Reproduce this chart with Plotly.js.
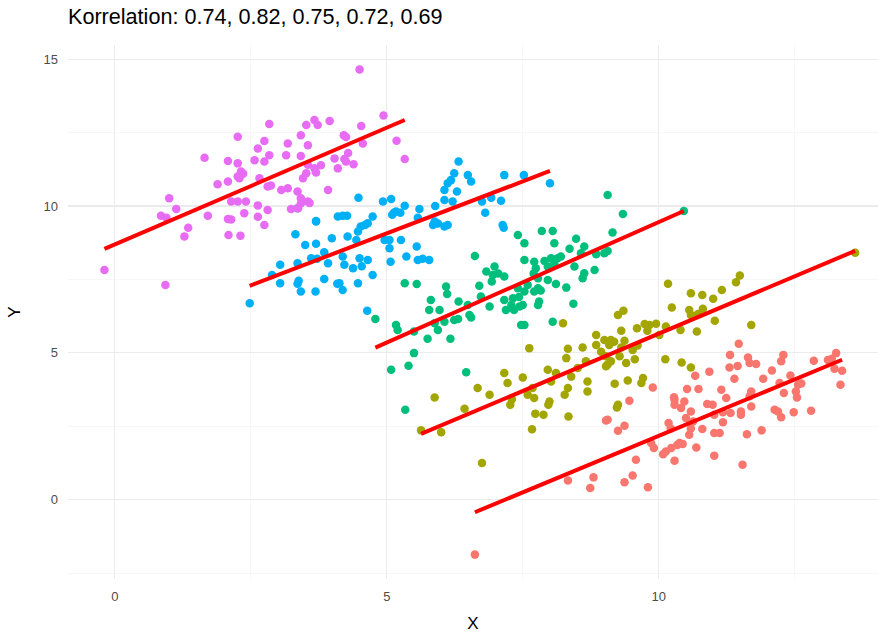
<!DOCTYPE html>
<html>
<head>
<meta charset="utf-8">
<script src="https://cdn.plot.ly/plotly-3.0.1.min.js"></script>
<style>html,body{margin:0;padding:0;background:#fff;}#chart{width:878px;height:633px;}</style>
</head>
<body>
<div id="chart"></div>
<script>
const titleText = "Korrelation: 0.74, 0.82, 0.75, 0.72, 0.69";
const groupNames = ["1", "2", "3", "4", "5"];
const groupColors = ["#F8766D", "#A3A500", "#00BF7D", "#00B0F6", "#E76BF3"];

const redPts = [[6.62,-1.87],[8.33,0.65],[8.74,0.4],[8.8,0.76],[9.03,2.7],[9.37,0.59],[9.52,0.82],[9.8,0.42],[9.58,1.36],[9.25,2.35],[9.37,2.52],[9.06,2.72],[9.86,1.93],[9.91,1.76],[10.13,1.64],[10.08,1.55],[10.29,1.33],[10.23,1.76],[10.38,1.93],[10.44,1.9],[10.34,1.86],[10.69,1.78],[10.18,2.61],[10.22,2.42],[10.29,3.23],[10.41,3.12],[10.5,2.78],[10.59,3.0],[10.63,2.66],[10.59,2.42],[10.56,2.21],[10.8,2.41],[10.99,3.23],[11.02,2.89],[11.18,2.98],[11.18,2.64],[11.32,2.95],[11.02,2.27],[11.12,2.27],[11.02,1.5],[11.54,1.19],[11.51,3.0],[11.51,2.89],[11.62,2.23],[11.7,3.17],[11.89,2.36],[12.13,3.06],[12.19,3.0],[12.25,2.81],[12.48,2.98],[12.8,3.03],[11.47,5.31],[11.31,4.93],[11.64,4.84],[11.67,4.65],[11.79,4.62],[11.3,4.5],[11.45,4.55],[11.39,4.12],[10.93,4.36],[10.67,4.22],[10.52,3.77],[10.73,3.77],[9.89,3.82],[10.28,3.49],[10.29,3.4],[10.47,3.34],[9.46,3.37],[11.15,3.74],[11.24,3.46],[10.89,3.26],[11.7,3.68],[11.67,3.52],[11.92,4.12],[12.08,4.4],[12.25,4.71],[12.29,4.93],[12.22,3.97],[12.42,4.23],[12.56,3.91],[12.62,3.96],[12.52,3.68],[12.3,3.63],[12.54,3.48],[12.85,4.73],[13.11,4.76],[13.26,4.99],[13.23,4.46],[13.37,4.39],[13.34,3.91],[13.18,4.8]];

const olivePts = [[8.24,6.01],[8.85,5.61],[9.0,5.44],[8.85,5.27],[8.94,5.04],[9.03,4.88],[8.6,5.18],[8.33,5.14],[8.3,4.82],[8.66,4.71],[9.03,4.54],[7.62,5.16],[7.96,4.42],[8.11,4.31],[8.39,4.19],[8.51,4.48],[8.69,4.02],[8.02,4.02],[8.33,3.8],[8.27,3.57],[8.69,3.68],[7.16,4.31],[7.22,3.97],[7.5,4.16],[7.68,3.8],[6.67,3.8],[6.89,3.57],[7.59,3.57],[7.71,3.46],[7.3,3.42],[7.99,3.34],[5.88,3.48],[6.43,3.1],[5.63,2.36],[6.0,2.3],[6.75,1.25],[7.73,2.93],[7.88,2.89],[7.67,2.4],[8.34,2.83],[7.97,3.23],[7.27,3.23],[13.61,8.41],[11.49,7.63],[11.42,7.4],[11.16,7.14],[11.0,6.84],[10.8,6.97],[10.59,7.03],[10.17,7.35],[10.24,6.54],[10.56,6.46],[10.59,6.29],[10.81,6.5],[10.72,6.32],[11.03,6.09],[10.7,5.73],[10.4,5.78],[11.7,5.95],[10.13,5.9],[10.01,5.61],[9.95,5.99],[9.83,5.95],[9.74,5.98],[9.79,5.75],[9.6,5.84],[9.25,6.29],[9.35,6.43],[9.31,5.75],[9.12,5.44],[9.18,5.38],[9.09,5.27],[9.37,5.41],[9.31,5.18],[9.52,5.1],[9.61,5.25],[9.28,4.88],[9.12,4.71],[9.06,4.6],[9.4,4.65],[9.56,4.78],[10.12,4.78],[10.42,4.67],[10.59,4.5],[9.43,4.06],[9.19,3.95],[9.71,4.14],[9.68,3.97],[9.25,3.23],[9.23,3.14]];

const greenPts = [[7.41,9.01],[7.53,8.73],[7.85,9.15],[8.05,9.15],[8.08,8.73],[8.48,8.88],[8.36,8.54],[8.63,8.62],[8.57,8.39],[8.85,8.36],[9.0,8.39],[6.62,8.3],[7.53,8.16],[7.71,8.1],[7.9,8.13],[8.02,8.22],[8.14,8.22],[8.08,8.02],[8.2,8.28],[7.96,7.94],[7.74,7.88],[7.7,7.7],[7.78,7.54],[8.45,7.94],[8.63,7.71],[8.82,7.82],[8.6,7.54],[7.96,7.48],[8.11,7.34],[8.3,7.22],[7.78,7.2],[7.71,7.09],[7.83,7.12],[7.59,7.31],[7.53,7.09],[7.41,7.2],[6.98,7.94],[6.83,7.77],[6.95,7.65],[7.05,7.7],[7.16,7.6],[6.93,7.43],[6.7,7.28],[6.73,6.92],[6.89,6.58],[7.16,6.8],[7.32,6.86],[7.43,6.9],[7.29,6.63],[7.44,6.58],[7.19,6.46],[7.34,6.46],[7.5,6.63],[7.78,6.63],[7.8,6.75],[7.47,5.95],[7.53,5.95],[8.05,6.06],[8.43,6.67],[5.33,7.37],[5.55,7.34],[6.09,7.26],[6.11,7.0],[5.81,6.8],[5.78,6.46],[5.97,6.46],[6.32,6.75],[6.49,6.63],[6.52,6.29],[6.55,6.2],[6.24,6.12],[6.31,6.15],[6.06,6.06],[5.88,6.01],[5.94,5.78],[5.75,5.48],[6.17,5.48],[5.5,5.73],[5.17,5.95],[5.2,5.78],[4.79,6.15],[5.5,4.99],[5.4,4.56],[5.08,4.42],[6.46,4.34],[5.34,3.06],[9.15,9.1],[9.06,8.47],[9.06,10.37],[9.34,9.73],[10.46,9.83]];

const bluePts = [[3.36,9.92],[3.7,9.47],[4.1,9.64],[6.32,11.51],[6.24,11.11],[6.18,10.88],[6.12,10.77],[6.06,10.54],[6.29,10.49],[6.49,11.05],[6.55,10.83],[7.16,11.05],[7.52,11.05],[8.0,10.77],[4.48,10.28],[4.93,10.15],[5.08,10.24],[5.33,10.01],[5.17,9.81],[5.1,9.7],[5.13,9.77],[5.25,9.77],[5.6,9.9],[5.89,10.0],[6.06,10.2],[6.21,10.15],[6.75,10.15],[6.92,10.28],[7.1,10.18],[6.81,9.77],[4.74,9.64],[4.19,9.67],[4.27,9.67],[4.65,9.41],[5.57,9.6],[5.88,9.47],[5.94,9.4],[7.13,9.35],[4.28,8.96],[4.47,9.13],[4.52,9.3],[4.6,9.35],[4.44,8.84],[4.19,8.28],[4.22,8.0],[4.38,7.88],[4.5,8.22],[4.54,7.95],[4.65,8.16],[4.74,7.65],[4.47,7.37],[4.19,7.14],[4.13,7.37],[4.96,8.84],[5.05,8.84],[5.05,8.56],[5.26,8.84],[5.36,8.28],[5.55,8.62],[5.57,8.16],[5.66,8.2],[5.78,8.16],[5.07,8.1],[4.64,6.43],[5.85,9.35],[6.06,9.3],[6.12,9.35],[7.15,9.26],[3.32,9.04],[3.5,8.67],[3.7,8.71],[3.7,9.49],[3.99,8.9],[3.85,8.42],[3.61,8.22],[3.72,8.2],[3.92,8.05],[3.36,8.05],[3.04,8.0],[2.89,7.65],[3.04,7.37],[3.36,7.35],[3.38,7.45],[3.42,7.09],[3.69,7.09],[3.85,7.51],[4.09,7.35],[2.48,6.69]];

const pinkPts = [[-0.19,7.82],[0.93,7.31],[1.28,8.96],[1.35,9.26],[2.09,9.01],[2.31,8.99],[2.75,9.35],[0.85,9.67],[0.95,9.6],[1.0,10.26],[1.13,9.9],[1.71,9.67],[1.65,11.64],[2.08,11.53],[2.26,12.36],[2.84,12.79],[2.75,12.21],[2.63,11.96],[2.84,11.73],[2.57,11.56],[2.75,11.51],[3.18,12.13],[3.15,11.73],[3.42,12.41],[3.55,12.07],[3.52,12.76],[3.67,12.93],[3.73,12.76],[3.95,12.89],[2.26,11.45],[2.32,11.17],[2.36,11.1],[2.26,11.0],[2.29,10.94],[1.89,10.74],[2.08,10.83],[2.66,10.94],[2.81,10.66],[2.87,10.7],[3.06,10.54],[3.18,10.6],[3.36,10.49],[3.42,10.26],[3.55,10.15],[3.92,10.54],[3.42,11.7],[3.55,11.4],[3.67,11.28],[3.79,11.39],[3.52,11.11],[3.7,11.14],[3.46,10.94],[4.04,11.62],[4.1,11.28],[2.14,10.15],[2.26,10.15],[2.41,10.15],[2.38,9.75],[2.63,10.02],[2.81,9.86],[2.63,9.63],[2.08,9.56],[2.14,9.54],[3.24,9.9],[3.37,9.92],[3.42,10.08],[3.58,10.1],[4.5,14.65],[4.94,13.08],[4.53,12.72],[4.21,12.41],[4.25,12.35],[4.56,12.13],[5.18,12.22],[5.33,11.6],[4.29,11.8],[4.22,11.6],[4.25,11.51],[4.39,11.42]];

// regression lines (intercept, slope) per group
const fitIntercepts = [-5.518, -2.157, 1.252, 5.527, 8.69];
const fitSlopes = [0.769, 0.781, 0.820, 0.708, 0.795];

const groups = [redPts, olivePts, greenPts, bluePts, pinkPts];

const traces = [];
groups.forEach((pts, i) => {
  traces.push({
    type: 'scatter', mode: 'markers', name: groupNames[i],
    x: pts.map(p => p[0]), y: pts.map(p => p[1]),
    marker: {color: groupColors[i], size: 8.5, line: {width: 0}},
    hoverinfo: 'x+y', showlegend: false
  });
});
groups.forEach((pts, i) => {
  const xs = pts.map(p => p[0]);
  const x0 = Math.min(...xs), x1 = Math.max(...xs);
  traces.push({
    type: 'scatter', mode: 'lines',
    x: [x0, x1],
    y: [fitIntercepts[i] + fitSlopes[i] * x0, fitIntercepts[i] + fitSlopes[i] * x1],
    line: {color: '#FF0000', width: 4},
    hoverinfo: 'skip', showlegend: false
  });
});

const FONT = 'Liberation Sans, Arial, sans-serif';
const axisCommon = {
  showline: false, zeroline: false, ticks: '',
  gridcolor: '#EBEBEB', gridwidth: 1.1,
  tickfont: {family: FONT, size: 13, color: '#4D4D4D'},
};

const layout = {
  width: 878, height: 633,
  paper_bgcolor: '#FFFFFF', plot_bgcolor: '#FFFFFF',
  margin: {l: 68, r: 0, t: 45, b: 54},
  showlegend: false,
  font: {family: FONT, color: '#000000'},
  title: {text: titleText, x: 0, xref: 'paper', xanchor: 'left', y: 1, yref: 'container', yanchor: 'top', pad: {t: 9},
          font: {family: FONT, size: 21.6, color: '#000000'}},
  xaxis: Object.assign({}, axisCommon, {
    range: [-0.86, 14.03], tickmode: 'array', tickvals: [0, 5, 10], ticktext: ['0', '5', '10'],
    ticklabelstandoff: 8,
    minor: {showgrid: true, gridcolor: '#F2F2F2', gridwidth: 0.6, tickmode: 'array', tickvals: [2.5, 7.5, 12.5]},
    title: {text: 'X', font: {family: FONT, size: 17, color: '#000000'}, standoff: 14}
  }),
  yaxis: Object.assign({}, axisCommon, {
    range: [-2.7, 15.48], tickmode: 'array', tickvals: [0, 5, 10, 15], ticktext: ['0', '5', '10', '15'],
    ticklabelstandoff: 9,
    minor: {showgrid: true, gridcolor: '#F2F2F2', gridwidth: 0.6, tickmode: 'array', tickvals: [-2.5, 2.5, 7.5, 12.5]},
    title: {text: 'Y', font: {family: FONT, size: 17, color: '#000000'}, standoff: 18}
  })
};

Plotly.newPlot('chart', traces, layout, {displayModeBar: false, staticPlot: true});
</script>
</body>
</html>
